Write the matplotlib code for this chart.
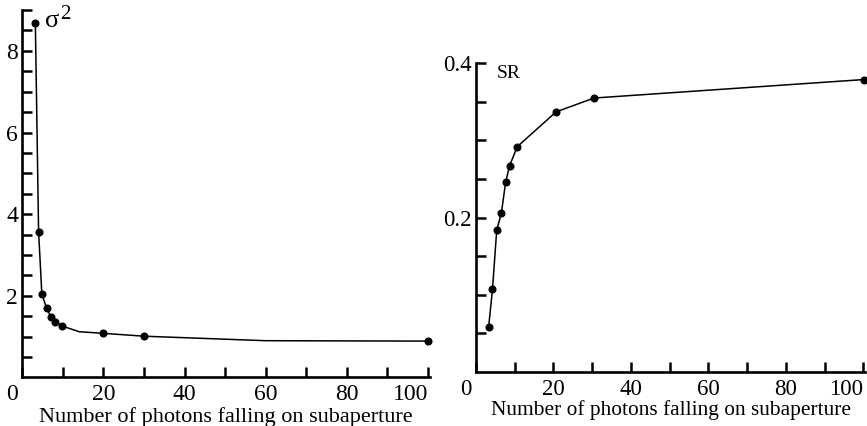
import matplotlib
matplotlib.use("Agg")
import matplotlib.pyplot as plt
import matplotlib.transforms as mtransforms

# Data
# left panel: variance vs photons
sig_x = [3.2, 4, 4.8, 6, 7, 8, 9.8, 14, 20, 30, 60, 100]
sig_y = [8.69, 3.57, 2.04, 1.69, 1.49, 1.37, 1.26, 1.12, 1.08, 1.01, 0.90, 0.89]
sig_marked = [0, 1, 2, 3, 4, 5, 6, 8, 9, 11]  # vertices that carry a dot

# right panel: Strehl ratio vs photons
sr_x = [3.3, 4.3, 5.4, 6.6, 7.7, 8.7, 10.7, 20.7, 30.5, 100.3]
sr_y = [0.058, 0.107, 0.184, 0.206, 0.246, 0.267, 0.292, 0.337, 0.355, 0.379]

x_ticks = list(range(0, 101, 10))
x_labels = ["0", "", "20", "", "40", "", "60", "", "80", "", "100"]
sig_yticks = [i * 0.5 for i in range(1, 19)]
sig_ylabels = ["", "", "", "2", "", "", "", "4", "", "", "", "6", "", "", "", "8", "", ""]
sr_yticks = [i * 0.05 for i in range(1, 9)]
sr_ylabels = ["", "", "", "0.2", "", "", "", "0.4"]

plt.rcParams["font.family"] = ["Liberation Serif", "DejaVu Serif"]

fig = plt.figure(figsize=(8.67, 4.26), dpi=100)
ax1 = fig.add_axes([0.0258, 0.114, 0.4702, 0.8624])
ax2 = fig.add_axes([0.5488, 0.1268, 0.4492, 0.7246])


def style(ax, yticks, ylabels, size, xlab_size, xlab_pad):
    for s in ["top", "right"]:
        ax.spines[s].set_visible(False)
    for s in ["left", "bottom"]:
        ax.spines[s].set_linewidth(1.9)
    ax.set_xticks(x_ticks)
    ax.set_xticklabels(x_labels)
    ax.set_yticks(yticks)
    ax.set_yticklabels(ylabels)
    ax.tick_params(direction="in", length=7, width=1.8, labelsize=size, pad=3)
    ax.tick_params(axis="x", pad=5)
    labels = ax.get_xticklabels()
    # "0" sits left of the axis, "100" ends at its tick
    labels[0].set_ha("right")
    labels[0].set_transform(labels[0].get_transform() +
                            mtransforms.ScaledTranslation(-4 / 100, 0, fig.dpi_scale_trans))
    labels[-1].set_ha("right")
    ax.set_xlabel("Number of photons falling on subaperture", fontsize=xlab_size,
                  labelpad=xlab_pad)


# left panel
ax1.plot(sig_x, sig_y, color="black", lw=1.1)
ax1.plot([sig_x[i] for i in sig_marked], [sig_y[i] for i in sig_marked],
         "o", color="black", ms=4.8, clip_on=False)
ax1.set_xlim(0, 100.5)
ax1.set_ylim(0, 9)
style(ax1, sig_yticks, sig_ylabels, 17, 16, 1)
ax1.text(5.5, 8.59, "σ", fontsize=19, va="baseline", ha="left")
ax1.text(9.4, 9.13, "2", fontsize=15, va="top", ha="left")

# right panel
ax2.plot(sr_x, sr_y, "o-", color="black", lw=1.1, ms=4.8, clip_on=False)
ax2.set_xlim(0, 100.5)
ax2.set_ylim(0, 0.4)
style(ax2, sr_yticks, sr_ylabels, 16.5, 15.4, 0)
ax2.text(5.3, 0.381, "SR", fontsize=14, va="baseline", ha="left")

fig.savefig("out.png", dpi=100)
